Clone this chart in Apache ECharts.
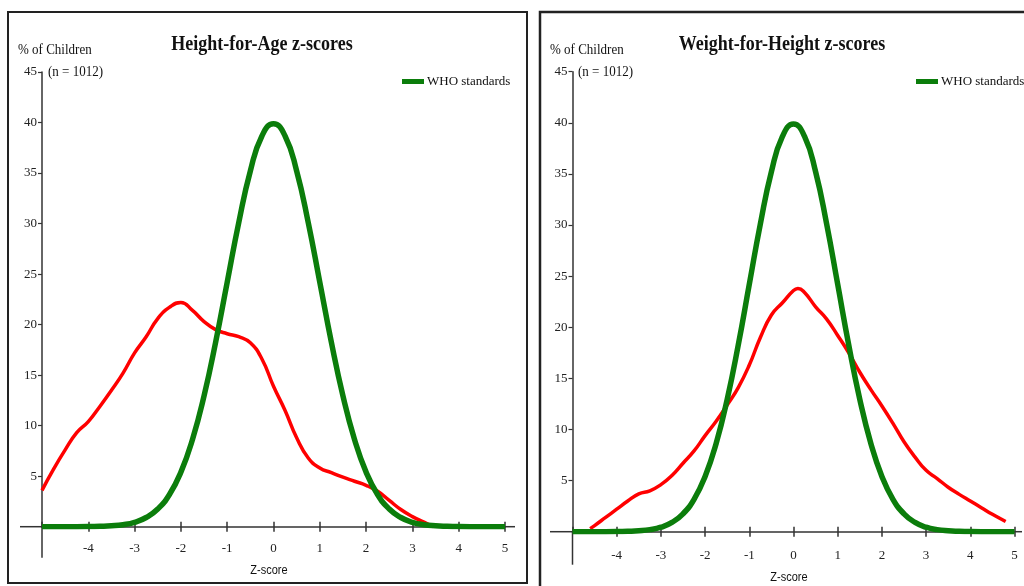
<!DOCTYPE html>
<html><head><meta charset="utf-8">
<script src="https://cdn.jsdelivr.net/npm/echarts@6/dist/echarts.min.js"></script>
<style>html,body{margin:0;padding:0;background:#fff}#c{width:1024px;height:586px}</style>
</head><body><div id="c"></div>
<script>
// ---- data ----
const titles = ['Height-for-Age z-scores', 'Weight-for-Height z-scores'];
const yName = '% of Children';
const nLabel = '(n = 1012)';
const xName = 'Z-score';
const legendName = 'WHO standards';

// WHO standard curve (percent of children by z-score)
const whoZ = [-5,-4.75,-4.5,-4.25,-4,-3.75,-3.5,-3.25,-3,-2.75,-2.5,-2.25,-2,-1.75,-1.5,-1.25,-1,-0.75,-0.5,-0.25,0,
              0.25,0.5,0.75,1,1.25,1.5,1.75,2,2.25,2.5,2.75,3,3.25,3.5,3.75,4,4.25,4.5,4.75,5];
const whoPct = [0,0,0,0,0.01,0.04,0.09,0.2,0.44,0.91,1.75,3.17,5.4,8.63,12.95,18.26,24.2,30.11,35.21,38.67,39.89,
                38.67,35.21,30.11,24.2,18.26,12.95,8.63,5.4,3.17,1.75,0.91,0.44,0.2,0.09,0.04,0.01,0,0,0,0];

// Height-for-Age sample curve
const hfaZ = [-5,-4.75,-4.5,-4.25,-4,-3.75,-3.5,-3.25,-3,-2.75,-2.5,-2.25,-2,-1.75,-1.5,-1.25,-1,-0.75,-0.5,-0.25,0,
              0.25,0.5,0.75,1,1.25,1.5,1.75,2,2.25,2.5,2.75,3,3.25,3.45];
const hfaPct = [3.6,5.7,7.6,9.3,10.4,11.9,13.5,15.2,17.2,18.8,20.6,21.7,22.2,21.4,20.3,19.5,19.1,18.8,18.2,16.6,13.9,
                11.5,8.8,6.8,5.8,5.35,4.9,4.5,4.1,3.5,2.6,1.7,1.0,0.45,0];

// Weight-for-Height sample curve
const whzZ = [-4.6,-4.5,-4.25,-4,-3.75,-3.5,-3.25,-3,-2.75,-2.5,-2.25,-2,-1.75,-1.5,-1.25,-1,-0.75,-0.5,-0.25,0,0.1,
              0.25,0.5,0.75,1,1.25,1.5,1.75,2,2.25,2.5,2.75,3,3.25,3.5,3.75,4,4.25,4.5,4.8];
const whzPct = [0.3,0.6,1.4,2.2,3.0,3.7,4.0,4.6,5.5,6.7,7.9,9.4,10.8,12.4,14.1,16.3,19.0,21.2,22.4,23.6,23.8,
                23.4,22.0,20.8,19.2,17.5,15.6,13.9,12.3,10.6,8.8,7.3,6.0,5.2,4.35,3.65,3.0,2.35,1.7,1.0];

// axis ranges / ticks
const xMin = -5, xMax = 5, xStep = 1;
const yMin = 0, yMax = 45, yStep = 5;

// ---- chart ----
const serif = "'Liberation Serif','Times New Roman',serif";
const sans = "'Liberation Sans',Arial,sans-serif";
const axisColor = '#333';
const pairs = (zs, vs) => zs.map((z, i) => [z, vs[i]]);

const grids = [
  { left: 42, top: 72, width: 463, height: 454.7, outerBoundsMode: 'none' },
  { left: 572.5, top: 71.7, width: 442, height: 460, outerBoundsMode: 'none' }
];
const labelMargins = [15, 17];

const xAxes = [], yAxes = [];
grids.forEach((g, gi) => {
  xAxes.push({
    type: 'value', gridIndex: gi, min: xMin, max: xMax, interval: xStep, position: 'bottom',
    axisLine: { show: true, onZero: false, lineStyle: { color: axisColor, width: 1.5 } },
    axisTick: { show: true, length: 5, lineStyle: { color: axisColor, width: 1.5 } },
    axisLabel: { showMinLabel: false, margin: labelMargins[gi], fontFamily: serif, fontSize: 13, color: '#222' },
    splitLine: { show: false }
  });
  xAxes.push({
    type: 'value', gridIndex: gi, min: xMin, max: xMax, interval: xStep, position: 'bottom',
    axisLine: { show: false, onZero: false },
    axisTick: { show: true, inside: true, length: 5, lineStyle: { color: axisColor, width: 1.5 } },
    axisLabel: { show: false }, splitLine: { show: false }
  });
  yAxes.push({
    type: 'value', gridIndex: gi, min: yMin, max: yMax, interval: yStep, position: 'left',
    axisLine: { show: true, onZero: false, lineStyle: { color: axisColor, width: 1.5 } },
    axisTick: { show: true, length: 4, lineStyle: { color: axisColor, width: 1.2 } },
    axisLabel: { showMinLabel: false, margin: 5, fontFamily: serif, fontSize: 13, color: '#222' },
    splitLine: { show: false }
  });
});

const redLine = (data, gi) => ({
  type: 'line', name: 'Sample', xAxisIndex: gi * 2, yAxisIndex: gi, data,
  showSymbol: false, smooth: 0.5, silent: true,
  lineStyle: { color: '#ff0000', width: 3.5 }, itemStyle: { color: '#ff0000' }, z: 3
});
const greenLine = (gi) => ({
  type: 'line', name: legendName, xAxisIndex: gi * 2, yAxisIndex: gi, data: pairs(whoZ, whoPct),
  showSymbol: false, smooth: 0.5, silent: true,
  lineStyle: { color: '#0b7d0b', width: 5.5 }, itemStyle: { color: '#0b7d0b' }, z: 4
});

const legendBase = {
  data: [legendName], icon: 'rect', itemWidth: 22, itemHeight: 5, padding: 0, itemGap: 0,
  selectedMode: false, textStyle: { fontFamily: serif, fontSize: 13, color: '#111', padding: [0, 0, 0, -2] }
};

const txt = (x, y, text, font, scaleY, align) => ({
  type: 'text', x, y, scaleY: scaleY || 1, silent: true,
  style: { text, font, fill: '#111', textAlign: align || 'center', textVerticalAlign: 'middle' }
});

const graphics = [
  { type: 'rect', shape: { x: 8, y: 12, width: 519, height: 571 }, style: { fill: 'none', stroke: '#222', lineWidth: 2 }, silent: true },
  { type: 'rect', shape: { x: 540, y: 12, width: 600, height: 620 }, style: { fill: 'none', stroke: '#222', lineWidth: 2.5 }, silent: true },
  txt(262, 44, titles[0], 'bold 18px ' + serif, 1.2),
  txt(782, 44, titles[1], 'bold 18px ' + serif, 1.2),
  txt(18, 50, yName, '13px ' + serif, 1.15, 'left'),
  txt(48, 72, nLabel, '13px ' + serif, 1.15, 'left'),
  txt(550, 50, yName, '13px ' + serif, 1.15, 'left'),
  txt(578, 72, nLabel, '13px ' + serif, 1.15, 'left'),
  txt(269, 570, xName, '11px ' + sans, 1.2),
  txt(789, 577, xName, '11px ' + sans, 1.2)
];

const chart = echarts.init(document.getElementById('c'));
chart.setOption({
  animation: false,
  backgroundColor: '#fff',
  grid: grids,
  xAxis: xAxes,
  yAxis: yAxes,
  legend: [
    Object.assign({}, legendBase, { left: 402, top: 75 }),
    Object.assign({}, legendBase, { left: 916, top: 75 })
  ],
  graphic: graphics,
  series: [redLine(pairs(hfaZ, hfaPct), 0), greenLine(0), redLine(pairs(whzZ, whzPct), 1), greenLine(1)]
});

// axis line extensions (crossing style), located through the library's scales
const ext = [];
[[0, 22, 10, 31], [1, 22.5, 7.5, 33]].forEach(([gi, leftExt, rightExt, downExt]) => {
  const p0 = chart.convertToPixel({ gridIndex: gi }, [xMin, yMin]);
  const p1 = chart.convertToPixel({ gridIndex: gi }, [xMax, yMin]);
  const ls = { stroke: axisColor, lineWidth: 1.5 };
  ext.push({ type: 'line', silent: true, shape: { x1: p0[0] - leftExt, y1: p0[1], x2: p0[0], y2: p0[1] }, style: ls });
  ext.push({ type: 'line', silent: true, shape: { x1: p1[0], y1: p1[1], x2: p1[0] + rightExt, y2: p1[1] }, style: ls });
  ext.push({ type: 'line', silent: true, shape: { x1: p0[0], y1: p0[1], x2: p0[0], y2: p0[1] + downExt }, style: ls });
});
chart.setOption({ graphic: graphics.concat(ext) });
</script>
</body></html>
